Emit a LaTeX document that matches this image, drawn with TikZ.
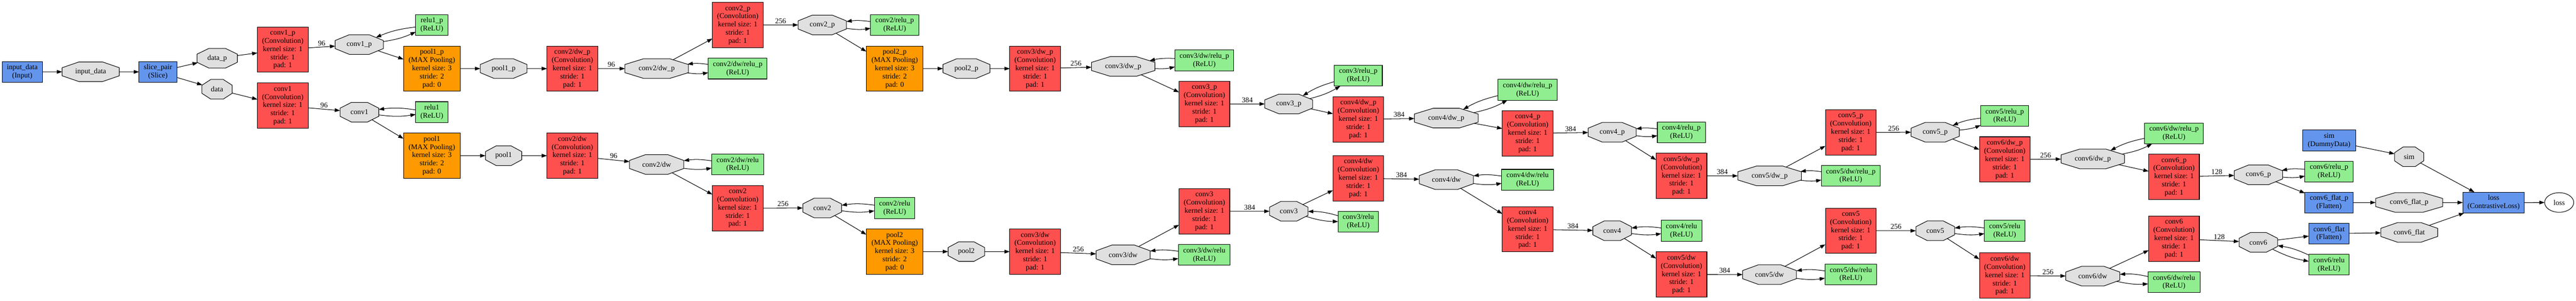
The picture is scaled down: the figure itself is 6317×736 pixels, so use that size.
\documentclass[tikz,border=0pt]{standalone}
\usepackage{graphicx}
\usepackage{fontspec}
\setmainfont{Liberation Serif}
\usetikzlibrary{shapes.geometric,arrows.meta}
\definecolor{convc}{HTML}{FF5050}
\definecolor{poolc}{HTML}{FF9900}
\definecolor{reluc}{HTML}{90EE90}
\definecolor{bluec}{HTML}{6495ED}
\definecolor{blobc}{HTML}{E0E0E0}
\newcommand\gvfont{\fontsize{17.9}{20}\selectfont}
\newcommand\convtxt[1]{#1\\(Convolution)\\kernel size: 1\\stride: 1\\pad: 1}
\newcommand\pooltxt[1]{#1\\(MAX Pooling)\\kernel size: 3\\stride: 2\\pad: 0}
\tikzset{
  gvbase/.style={draw=black, line width=1.3pt, inner sep=0pt, outer sep=0pt, align=center, font=\gvfont},
  gvbox/.style={gvbase, rectangle, minimum height=51pt},
  gvtall/.style={gvbase, rectangle, minimum height=111pt, minimum width=124.4pt},
  convbox/.style={gvtall, fill=convc},
  poolbox/.style={gvtall, fill=poolc, minimum width=139pt},
  relubox/.style={gvbox, fill=reluc, minimum width=#1},
  bluebox/.style={gvbox, fill=bluec, minimum width=#1},
  octa/.style={gvbase, fill=blobc, regular polygon, regular polygon sides=8, minimum size=51.95pt, transform shape},
  arr/.style={-{Triangle[length=13pt,width=9pt]}, line width=1.3pt},
  lbl/.style={midway, above, inner sep=3pt, font=\gvfont},
}
\newcommand\oct[5]{%
  \pgfmathsetmacro\octsx{#4/48}%
  \pgfmathsetmacro\octisx{48/#4}%
  \path (#2,-#3) node[octa, xscale=\octsx] (#1) {\scalebox{\octisx}[1]{#5}};}
\newcommand\bx[5]{\node[#4] (#1) at (#2,-#3) {#5};}
\newcommand\inplace[2]{\draw[arr] (#1) to[bend right=8] (#2); \draw[arr] (#2) to[bend right=8] (#1);}
\begin{document}
\begin{tikzpicture}[x=1pt,y=1pt]
\useasboundingbox (0,0) rectangle (6317,-736);
% nodes
\bx{inbox}{54.6}{176}{bluebox=99pt}{input\_data\\(Input)}
\oct{inoct}{222.5}{175.6}{140}{input\_data}
\bx{slice}{387.3}{176}{bluebox=92.6pt}{slice\_pair\\(Slice)}
\oct{datap}{532.6}{142.5}{99}{data\_p}
\oct{data}{532.2}{218.5}{74}{data}
\bx{cAp}{693.4}{121.3}{convbox}{\convtxt{conv1\_p}}
\bx{cA}{693.4}{258.6}{convbox}{\convtxt{conv1}}
\oct{oAp}{881}{109}{118}{conv1\_p}
\oct{oA}{881.4}{274.6}{95}{conv1}
\bx{rAp}{1059}{61.2}{relubox=79pt}{relu1\_p\\(ReLU)}
\bx{pAp}{1059}{168}{poolbox}{\pooltxt{pool1\_p}}
\bx{rA}{1059}{274.4}{relubox=79pt}{relu1\\(ReLU)}
\bx{pA}{1059}{381}{poolbox}{\pooltxt{pool1}}
\oct{opAp}{1235}{167.8}{114.7}{pool1\_p}
\oct{opA}{1235}{381}{89}{pool1}
\bx{dBp}{1403.6}{168}{convbox}{\convtxt{conv2/dw\_p}}
\bx{dB}{1403.6}{381}{convbox}{\convtxt{conv2/dw}}
\oct{odBp}{1610.3}{167.8}{155.7}{conv2/dw\_p}
\oct{odB}{1610.3}{402.5}{133}{conv2/dw}
\bx{cBp}{1809.1}{61.3}{convbox}{\convtxt{conv2\_p}}
\bx{rdBp}{1809}{167.8}{relubox=144.3pt}{conv2/dw/relu\_p\\(ReLU)}
\bx{rdB}{1809}{402.5}{relubox=127.5pt}{conv2/dw/relu\\(ReLU)}
\bx{cB}{1809.1}{509.3}{convbox}{\convtxt{conv2}}
\oct{oBp}{2016.4}{61}{118.3}{conv2\_p}
\oct{oB}{2016.2}{509}{95}{conv2}
\bx{rBp}{2194}{61.2}{relubox=118pt}{conv2/relu\_p\\(ReLU)}
\bx{pBp}{2194}{168}{poolbox}{\pooltxt{pool2\_p}}
\bx{rB}{2194}{509}{relubox=99.4pt}{conv2/relu\\(ReLU)}
\bx{pB}{2194}{615.8}{poolbox}{\pooltxt{pool2}}
\oct{opBp}{2369.9}{167.8}{115.2}{pool2\_p}
\oct{opB}{2369.7}{615.6}{89.5}{pool2}
\bx{dCp}{2538.4}{168}{convbox}{\convtxt{conv3/dw\_p}}
\bx{dC}{2538.4}{615.8}{convbox}{\convtxt{conv3/dw}}
\oct{odCp}{2754.4}{162.6}{155.6}{conv3/dw\_p}
\oct{odC}{2754.2}{623.6}{132.4}{conv3/dw}
\bx{rdCp}{2953.3}{147.9}{relubox=144.3pt}{conv3/dw/relu\_p\\(ReLU)}
\bx{cCp}{2953.5}{254.4}{convbox}{\convtxt{conv3\_p}}
\bx{cC}{2953.5}{517}{convbox}{\convtxt{conv3}}
\bx{rdC}{2953.2}{623.8}{relubox=127pt}{conv3/dw/relu\\(ReLU)}
\oct{oCp}{3160.3}{254.4}{117.5}{conv3\_p}
\oct{oC}{3160.4}{517}{94.5}{conv3}
\bx{rCp}{3330.8}{185}{relubox=117.7pt}{conv3/relu\_p\\(ReLU)}
\bx{dDp}{3331}{292}{convbox}{\convtxt{conv4/dw\_p}}
\bx{dD}{3331}{436.1}{convbox}{\convtxt{conv4/dw}}
\bx{rC}{3330.8}{542.6}{relubox=98.6pt}{conv3/relu\\(ReLU)}
\oct{odDp}{3546.6}{289}{156.2}{conv4/dw\_p}
\oct{odD}{3546.8}{439.6}{132.8}{conv4/dw}
\bx{rdDp}{3746}{219.7}{relubox=144.6pt}{conv4/dw/relu\_p\\(ReLU)}
\bx{cDp}{3746.2}{326.2}{convbox}{\convtxt{conv4\_p}}
\bx{rdD}{3746}{439.9}{relubox=127pt}{conv4/dw/relu\\(ReLU)}
\bx{cD}{3746.2}{561}{convbox}{\convtxt{conv4}}
\oct{oDp}{3953.4}{323.6}{117.7}{conv4\_p}
\oct{oD}{3953.4}{564.7}{94.7}{conv4}
\bx{rDp}{4123.2}{323.9}{relubox=117.8pt}{conv4/relu\_p\\(ReLU)}
\bx{dEp}{4123.4}{430.4}{convbox}{\convtxt{conv5/dw\_p}}
\bx{rD}{4123.4}{564.9}{relubox=99.2pt}{conv4/relu\\(ReLU)}
\bx{dE}{4123.4}{671.7}{convbox}{\convtxt{conv5/dw}}
\oct{odEp}{4339.5}{430.4}{156.1}{conv5/dw\_p}
\oct{odE}{4339.3}{672}{132.1}{conv5/dw}
\bx{cEp}{4538.5}{323.9}{convbox}{\convtxt{conv5\_p}}
\bx{rdEp}{4538.5}{430.4}{relubox=144.1pt}{conv5/dw/relu\_p\\(ReLU)}
\bx{cE}{4538.5}{564.7}{convbox}{\convtxt{conv5}}
\bx{rdE}{4538.7}{671.7}{relubox=127pt}{conv5/dw/relu\\(ReLU)}
\oct{oEp}{4745.5}{323.6}{118.3}{conv5\_p}
\oct{oE}{4745.7}{564.7}{94.9}{conv5}
\bx{rEp}{4916}{283.8}{relubox=117.9pt}{conv5/relu\_p\\(ReLU)}
\bx{dFp}{4916.2}{390.3}{convbox}{\convtxt{conv6/dw\_p}}
\bx{rE}{4915.9}{564.9}{relubox=99.1pt}{conv5/relu\\(ReLU)}
\bx{dF}{4916.2}{674.5}{convbox}{\convtxt{conv6/dw}}
\oct{odFp}{5132}{388.9}{155.6}{conv6/dw\_p}
\oct{odF}{5132}{675.7}{132.7}{conv6/dw}
\bx{rdFp}{5331.2}{326.5}{relubox=143.9pt}{conv6/dw/relu\_p\\(ReLU)}
\bx{cFp}{5331.2}{432.8}{convbox}{\convtxt{conv6\_p}}
\bx{cF}{5331.2}{583.9}{convbox}{\convtxt{conv6}}
\bx{rdF}{5331.2}{690.5}{relubox=127pt}{conv6/dw/relu\\(ReLU)}
\oct{oFp}{5538.2}{427.9}{118.6}{conv6\_p}
\oct{oF}{5538}{593.1}{94.6}{conv6}
\bx{sim}{5711.5}{343.6}{bluebox=129.6pt}{sim\\(DummyData)}
\bx{rFp}{5711.3}{419.7}{relubox=117.9pt}{conv6/relu\_p\\(ReLU)}
\bx{flp}{5711.3}{495.7}{bluebox=117.9pt}{conv6\_flat\_p\\(Flatten)}
\bx{fl}{5711.3}{571.7}{bluebox=99pt}{conv6\_flat\\(Flatten)}
\bx{rF}{5711.3}{647.8}{relubox=99pt}{conv6/relu\\(ReLU)}
\oct{osim}{5907.7}{383.7}{71.4}{sim}
\oct{oflp}{5907.7}{495.5}{164.3}{conv6\_flat\_p}
\oct{ofl}{5908}{568.7}{139.4}{conv6\_flat}
\bx{loss}{6115}{495.7}{bluebox=150.7pt}{loss\\(ContrastiveLoss)}
\node[gvbase, ellipse, fill=white, minimum width=71.4pt, minimum height=48pt] (lossout) at (6275.7,-495.5) {loss};
% edges
\draw[arr] (inbox) -- (inoct);
\draw[arr] (inoct) -- (slice);
\draw[arr] (slice) -- (datap);
\draw[arr] (slice) -- (data);
\draw[arr] (datap) -- (cAp);
\draw[arr] (data) -- (cA);
\draw[arr] (cAp) -- node[lbl]{96} (oAp);
\draw[arr] (cA) -- node[lbl]{96} (oA);
\inplace{oAp}{rAp} \inplace{oA}{rA}
\draw[arr] (oAp) -- (pAp); \draw[arr] (oA) -- (pA);
\draw[arr] (pAp) -- (opAp); \draw[arr] (pA) -- (opA);
\draw[arr] (opAp) -- (dBp); \draw[arr] (opA) -- (dB);
\draw[arr] (dBp) -- node[lbl]{96} (odBp); \draw[arr] (dB) -- node[lbl]{96} (odB);
\inplace{odBp}{rdBp} \inplace{odB}{rdB}
\draw[arr] (odBp) -- (cBp); \draw[arr] (odB) -- (cB);
\draw[arr] (cBp) -- node[lbl]{256} (oBp); \draw[arr] (cB) -- node[lbl]{256} (oB);
\inplace{oBp}{rBp} \inplace{oB}{rB}
\draw[arr] (oBp) -- (pBp); \draw[arr] (oB) -- (pB);
\draw[arr] (pBp) -- (opBp); \draw[arr] (pB) -- (opB);
\draw[arr] (opBp) -- (dCp); \draw[arr] (opB) -- (dC);
\draw[arr] (dCp) -- node[lbl]{256} (odCp); \draw[arr] (dC) -- node[lbl]{256} (odC);
\inplace{odCp}{rdCp} \inplace{odC}{rdC}
\draw[arr] (odCp) -- (cCp); \draw[arr] (odC) -- (cC);
\draw[arr] (cCp) -- node[lbl]{384} (oCp); \draw[arr] (cC) -- node[lbl]{384} (oC);
\inplace{oCp}{rCp} \inplace{oC}{rC}
\draw[arr] (oCp) -- (dDp); \draw[arr] (oC) -- (dD);
\draw[arr] (dDp) -- node[lbl]{384} (odDp); \draw[arr] (dD) -- node[lbl]{384} (odD);
\inplace{odDp}{rdDp} \inplace{odD}{rdD}
\draw[arr] (odDp) -- (cDp); \draw[arr] (odD) -- (cD);
\draw[arr] (cDp) -- node[lbl]{384} (oDp); \draw[arr] (cD) -- node[lbl]{384} (oD);
\inplace{oDp}{rDp} \inplace{oD}{rD}
\draw[arr] (oDp) -- (dEp); \draw[arr] (oD) -- (dE);
\draw[arr] (dEp) -- node[lbl]{384} (odEp); \draw[arr] (dE) -- node[lbl]{384} (odE);
\inplace{odEp}{rdEp} \inplace{odE}{rdE}
\draw[arr] (odEp) -- (cEp); \draw[arr] (odE) -- (cE);
\draw[arr] (cEp) -- node[lbl]{256} (oEp); \draw[arr] (cE) -- node[lbl]{256} (oE);
\inplace{oEp}{rEp} \inplace{oE}{rE}
\draw[arr] (oEp) -- (dFp); \draw[arr] (oE) -- (dF);
\draw[arr] (dFp) -- node[lbl]{256} (odFp); \draw[arr] (dF) -- node[lbl]{256} (odF);
\inplace{odFp}{rdFp} \inplace{odF}{rdF}
\draw[arr] (odFp) -- (cFp); \draw[arr] (odF) -- (cF);
\draw[arr] (cFp) -- node[lbl]{128} (oFp); \draw[arr] (cF) -- node[lbl]{128} (oF);
\inplace{oFp}{rFp} \inplace{oF}{rF}
\draw[arr] (oFp) -- (flp); \draw[arr] (oF) -- (fl);
\draw[arr] (flp) -- (oflp); \draw[arr] (fl) -- (ofl);
\draw[arr] (sim) -- (osim);
\draw[arr] (osim) -- (loss);
\draw[arr] (oflp) -- (loss);
\draw[arr] (ofl) -- (loss);
\draw[arr] (loss) -- (lossout);
\end{tikzpicture}
\end{document}
